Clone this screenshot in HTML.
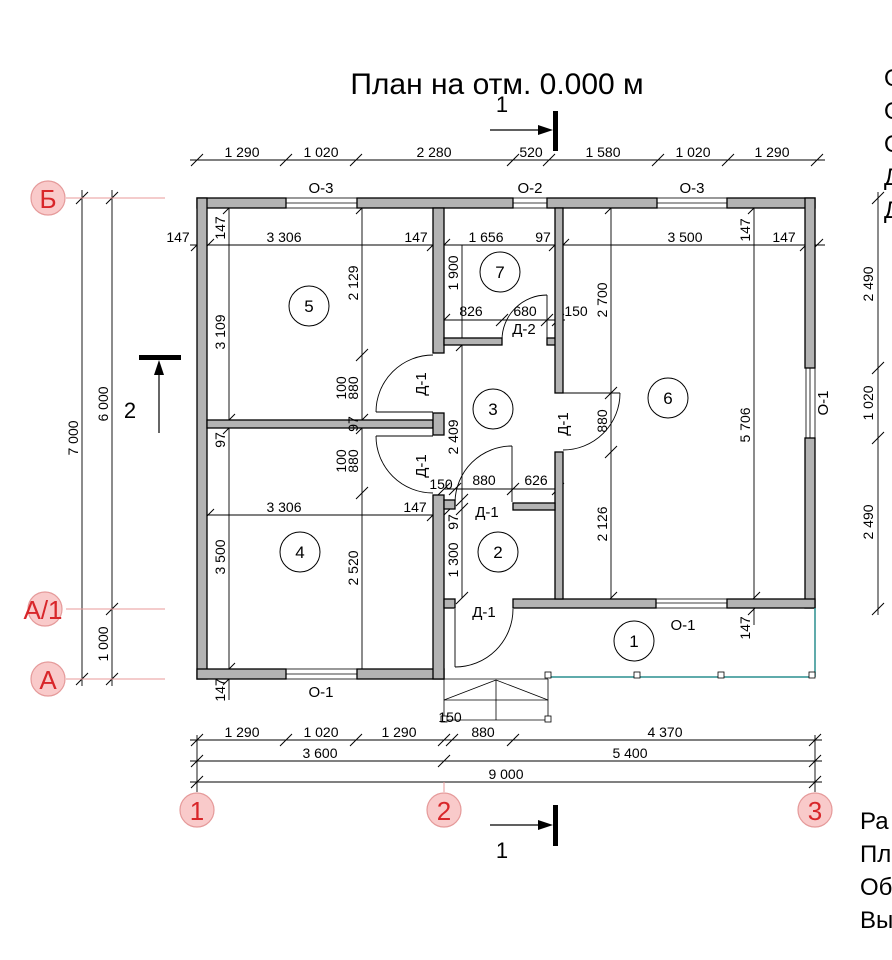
<!DOCTYPE html>
<html><head><meta charset="utf-8"><style>
html,body{margin:0;padding:0;background:#fff;}
svg{display:block;font-family:"Liberation Sans",sans-serif;}
</style></head><body>
<svg width="892" height="960" viewBox="0 0 892 960" xmlns="http://www.w3.org/2000/svg">
<defs>
<g id="tk"><line x1="-6" y1="6" x2="6" y2="-6" stroke="#000" stroke-width="1"/></g>
</defs>
<rect width="892" height="960" fill="#fff"/>
<text x="497" y="94" font-size="30" text-anchor="middle">План на отм. 0.000 м</text>
<!-- section 1 top -->
<text x="502" y="112" font-size="22" text-anchor="middle">1</text>
<line x1="490" y1="130" x2="548" y2="130" stroke="#000" stroke-width="1.2"/>
<polygon points="553,130 538,125 538,135" fill="#000"/>
<rect x="553" y="111" width="5" height="40" fill="#000"/>
<!-- section 1 bottom -->
<line x1="490" y1="825" x2="548" y2="825" stroke="#000" stroke-width="1.2"/>
<polygon points="553,825 538,820 538,830" fill="#000"/>
<rect x="553" y="805" width="5" height="41" fill="#000"/>
<text x="502" y="858" font-size="22" text-anchor="middle">1</text>
<!-- section 2 -->
<rect x="139" y="355" width="42" height="5" fill="#000"/>
<line x1="159" y1="433" x2="159" y2="365" stroke="#000" stroke-width="1.2"/>
<polygon points="159,360 154,375 164,375" fill="#000"/>
<text x="130" y="418" font-size="22" text-anchor="middle">2</text>

<g stroke="#000" stroke-width="0.9" fill="none">
<line x1="190" y1="160" x2="825" y2="160"/>
<line x1="190" y1="245" x2="825" y2="245"/>
<line x1="190" y1="740" x2="822" y2="740"/>
<line x1="190" y1="761" x2="822" y2="761"/>
<line x1="190" y1="782" x2="822" y2="782"/>
<line x1="197" y1="735" x2="197" y2="792"/>
<line x1="815" y1="735" x2="815" y2="792"/>
<line x1="82" y1="190" x2="82" y2="686"/>
<line x1="112" y1="190" x2="112" y2="686"/>
<line x1="878" y1="192" x2="878" y2="615"/>
<line x1="229" y1="208" x2="229" y2="669"/>
<line x1="362" y1="208" x2="362" y2="669"/>
<line x1="462" y1="245" x2="462" y2="598"/>
<line x1="611" y1="208" x2="611" y2="598"/>
<line x1="754" y1="208" x2="754" y2="598"/>
<line x1="197" y1="515" x2="444" y2="515"/>
<line x1="433" y1="320" x2="565" y2="320"/>
<line x1="444" y1="489" x2="563" y2="489"/>
<line x1="754" y1="598" x2="754" y2="625"/>
<line x1="229" y1="669" x2="229" y2="700"/>
</g>
<g>
<use href="#tk" x="197" y="160"/><use href="#tk" x="286" y="160"/><use href="#tk" x="356" y="160"/><use href="#tk" x="513" y="160"/><use href="#tk" x="549" y="160"/><use href="#tk" x="658" y="160"/><use href="#tk" x="728" y="160"/><use href="#tk" x="817" y="160"/>
<use href="#tk" x="197" y="245"/><use href="#tk" x="208" y="245"/><use href="#tk" x="433" y="245"/><use href="#tk" x="444" y="245"/><use href="#tk" x="555" y="245"/><use href="#tk" x="563" y="245"/><use href="#tk" x="806" y="245"/><use href="#tk" x="817" y="245"/>
<use href="#tk" x="229" y="208"/><use href="#tk" x="362" y="208"/><use href="#tk" x="611" y="208"/><use href="#tk" x="754" y="208"/>
<use href="#tk" x="362" y="355"/><use href="#tk" x="362" y="420"/><use href="#tk" x="362" y="428"/><use href="#tk" x="362" y="493"/><use href="#tk" x="229" y="420"/><use href="#tk" x="229" y="428"/>
<use href="#tk" x="462" y="345"/><use href="#tk" x="462" y="500"/><use href="#tk" x="462" y="509"/><use href="#tk" x="462" y="598"/>
<use href="#tk" x="611" y="393"/><use href="#tk" x="611" y="452"/><use href="#tk" x="611" y="598"/><use href="#tk" x="754" y="598"/><use href="#tk" x="754" y="609"/>
<use href="#tk" x="444" y="320"/><use href="#tk" x="502" y="320"/><use href="#tk" x="547" y="320"/><use href="#tk" x="558" y="320"/>
<use href="#tk" x="444" y="489"/><use href="#tk" x="455" y="489"/><use href="#tk" x="513" y="489"/><use href="#tk" x="558" y="489"/>
<use href="#tk" x="208" y="515"/><use href="#tk" x="433" y="515"/><use href="#tk" x="444" y="515"/>
<use href="#tk" x="229" y="669"/><use href="#tk" x="229" y="679"/>
<use href="#tk" x="197" y="740"/><use href="#tk" x="286" y="740"/><use href="#tk" x="356" y="740"/><use href="#tk" x="444" y="740"/><use href="#tk" x="452" y="740"/><use href="#tk" x="513" y="740"/><use href="#tk" x="815" y="740"/>
<use href="#tk" x="197" y="761"/><use href="#tk" x="444" y="761"/><use href="#tk" x="815" y="761"/>
<use href="#tk" x="197" y="782"/><use href="#tk" x="815" y="782"/>
<use href="#tk" x="82" y="198"/><use href="#tk" x="82" y="679"/><use href="#tk" x="112" y="198"/><use href="#tk" x="112" y="609"/><use href="#tk" x="112" y="679"/>
<use href="#tk" x="878" y="198"/><use href="#tk" x="878" y="368"/><use href="#tk" x="878" y="438"/><use href="#tk" x="878" y="609"/>
</g>
<g stroke="#e89a9a" stroke-width="1">
<line x1="66" y1="198" x2="165" y2="198"/>
<line x1="66" y1="609" x2="165" y2="609"/>
<line x1="66" y1="679" x2="165" y2="679"/>
<line x1="444" y1="782" x2="444" y2="792"/>
</g>
<g fill="#f9caca" stroke="#e59a9a" stroke-width="1.2">
<circle cx="48" cy="198" r="17"/><circle cx="45" cy="609" r="17"/><circle cx="48" cy="679" r="17"/>
<circle cx="197" cy="810" r="17"/><circle cx="444" cy="810" r="17"/><circle cx="815" cy="810" r="17"/>
</g>
<g fill="#d8262a" font-size="26" text-anchor="middle">
<text x="48" y="208">Б</text><text x="43" y="619">А/1</text><text x="48" y="689">А</text>
<text x="197" y="820">1</text><text x="444" y="820">2</text><text x="815" y="820">3</text>
</g>

<g stroke="#000" stroke-width="0.8" fill="#fff">
<rect x="286" y="198" width="71" height="10"/><line x1="286" y1="203" x2="357" y2="203"/>
<rect x="513" y="198" width="34" height="10"/><line x1="513" y1="203" x2="547" y2="203"/>
<rect x="657" y="198" width="70" height="10"/><line x1="657" y1="203" x2="727" y2="203"/>
<rect x="806" y="368" width="9" height="70"/><line x1="810" y1="368" x2="810" y2="438"/>
<rect x="656" y="599" width="71" height="9"/><line x1="656" y1="603" x2="727" y2="603"/>
<rect x="286" y="669" width="71" height="10"/><line x1="286" y1="674" x2="357" y2="674"/>
</g>
<g fill="#b3b3b3" stroke="#000" stroke-width="1.3">
<rect x="197" y="198" width="89" height="10"/>
<rect x="357" y="198" width="156" height="10"/>
<rect x="547" y="198" width="110" height="10"/>
<rect x="727" y="198" width="88" height="10"/>
<rect x="197" y="198" width="10" height="481"/>
<rect x="805" y="198" width="10" height="170"/>
<rect x="805" y="438" width="10" height="170"/>
<rect x="513" y="599" width="143" height="9"/>
<rect x="727" y="599" width="88" height="9"/>
<rect x="197" y="669" width="89" height="10"/>
<rect x="357" y="669" width="87" height="10"/>
<rect x="433" y="208" width="11" height="145"/>
<rect x="444" y="338" width="58" height="7"/>
<rect x="547" y="338" width="11" height="7"/>
<rect x="207" y="420" width="226" height="8"/>
<rect x="433" y="413" width="11" height="22"/>
<rect x="433" y="495" width="11" height="184"/>
<rect x="444" y="500" width="11" height="9"/>
<rect x="444" y="599" width="11" height="9"/>
<rect x="555" y="208" width="8" height="185"/>
<rect x="555" y="452" width="8" height="147"/>
<rect x="513" y="503" width="42" height="7"/>
</g>
<g stroke="#000" stroke-width="0.9" fill="none">
<line x1="376" y1="412" x2="433" y2="412"/><path d="M433,355 A57,57 0 0 0 376,412"/>
<line x1="376" y1="436" x2="433" y2="436"/><path d="M376,436 A57,57 0 0 0 433,493"/>
<line x1="512" y1="446" x2="512" y2="502"/><path d="M512,446 A57,57 0 0 0 455,502"/>
<line x1="563" y1="393" x2="620" y2="393"/><path d="M620,393 A57,57 0 0 1 563,450"/>
<line x1="547" y1="295" x2="547" y2="338"/><path d="M547,295 A45,45 0 0 0 502,340"/>
<line x1="455" y1="609" x2="455" y2="667"/><path d="M513,609 A58,58 0 0 1 455,667"/>
</g>
<g stroke="#2a8f8f" stroke-width="1.5" fill="none">
<line x1="551" y1="677" x2="815" y2="677"/>
<line x1="815" y1="608" x2="815" y2="677"/>
</g>
<g stroke="#000" stroke-width="0.8" fill="#fff">
<rect x="545" y="672" width="6" height="6"/><rect x="634" y="672" width="6" height="6"/><rect x="718" y="672" width="6" height="6"/><rect x="809" y="672" width="6" height="6"/>
<line x1="444" y1="679" x2="444" y2="720"/>
<line x1="548" y1="679" x2="548" y2="720"/>
<line x1="444" y1="700" x2="548" y2="700"/>
<line x1="444" y1="700" x2="496" y2="680"/><line x1="496" y1="680" x2="548" y2="700"/>
<line x1="496" y1="680" x2="496" y2="720"/>
<line x1="444" y1="720" x2="548" y2="720"/>
<line x1="444" y1="679" x2="548" y2="679"/>
<rect x="441" y="716" width="6" height="6"/><rect x="545" y="716" width="6" height="6"/>
</g>
<g stroke="#000" stroke-width="1" fill="none">
<circle cx="309" cy="306" r="20"/><circle cx="500" cy="272" r="20"/><circle cx="493" cy="409" r="20"/>
<circle cx="668" cy="398" r="20"/><circle cx="300" cy="552" r="20"/><circle cx="498" cy="552" r="20"/><circle cx="634" cy="641" r="20"/>
</g>
<g font-size="17" text-anchor="middle">
<text x="309" y="312">5</text><text x="500" y="278">7</text><text x="493" y="415">3</text><text x="668" y="404">6</text><text x="300" y="558">4</text><text x="498" y="558">2</text><text x="634" y="647">1</text>
</g>
<g font-size="15" text-anchor="middle">
<text x="321" y="193">О-3</text><text x="530" y="193">О-2</text><text x="692" y="193">О-3</text>
<text x="321" y="697">О-1</text><text x="683" y="630">О-1</text>
<text x="524" y="334">Д-2</text><text x="487" y="517">Д-1</text><text x="484" y="617">Д-1</text>
<text transform="translate(828,403) rotate(-90)">О-1</text>
<text transform="translate(426,384) rotate(-90)">Д-1</text>
<text transform="translate(426,466) rotate(-90)">Д-1</text>
<text transform="translate(568,424) rotate(-90)">Д-1</text>
</g>
<g font-size="14" text-anchor="middle">
<text x="242" y="157">1 290</text><text x="321" y="157">1 020</text><text x="434" y="157">2 280</text><text x="531" y="157">520</text><text x="603" y="157">1 580</text><text x="693" y="157">1 020</text><text x="772" y="157">1 290</text>
<text x="178" y="242">147</text><text x="284" y="242">3 306</text><text x="416" y="242">147</text><text x="486" y="242">1 656</text><text x="543" y="242">97</text><text x="685" y="242">3 500</text><text x="784" y="242">147</text>
<text x="471" y="316">826</text><text x="525" y="316">680</text><text x="576" y="316">150</text>
<text x="441" y="489">150</text><text x="484" y="485">880</text><text x="536" y="485">626</text>
<text x="284" y="512">3 306</text><text x="415" y="512">147</text>
<text x="242" y="737">1 290</text><text x="321" y="737">1 020</text><text x="399" y="737">1 290</text><text x="483" y="737">880</text><text x="665" y="737">4 370</text>
<text x="450" y="722">150</text>
<text x="320" y="758">3 600</text><text x="630" y="758">5 400</text><text x="506" y="779">9 000</text>
<text transform="translate(78,438) rotate(-90)">7 000</text>
<text transform="translate(108,404) rotate(-90)">6 000</text>
<text transform="translate(108,644) rotate(-90)">1 000</text>
<text transform="translate(873,284) rotate(-90)">2 490</text>
<text transform="translate(873,403) rotate(-90)">1 020</text>
<text transform="translate(873,522) rotate(-90)">2 490</text>
<text transform="translate(225,228) rotate(-90)">147</text>
<text transform="translate(225,332) rotate(-90)">3 109</text>
<text transform="translate(225,440) rotate(-90)">97</text>
<text transform="translate(225,557) rotate(-90)">3 500</text>
<text transform="translate(225,690) rotate(-90)">147</text>
<text transform="translate(358,283) rotate(-90)">2 129</text>
<text transform="translate(346,388) rotate(-90)">100</text>
<text transform="translate(358,388) rotate(-90)">880</text>
<text transform="translate(358,424) rotate(-90)">97</text>
<text transform="translate(346,461) rotate(-90)">100</text>
<text transform="translate(358,461) rotate(-90)">880</text>
<text transform="translate(358,568) rotate(-90)">2 520</text>
<text transform="translate(458,273) rotate(-90)">1 900</text>
<text transform="translate(458,437) rotate(-90)">2 409</text>
<text transform="translate(458,522) rotate(-90)">97</text>
<text transform="translate(458,560) rotate(-90)">1 300</text>
<text transform="translate(607,300) rotate(-90)">2 700</text>
<text transform="translate(607,421) rotate(-90)">880</text>
<text transform="translate(607,524) rotate(-90)">2 126</text>
<text transform="translate(750,425) rotate(-90)">5 706</text>
<text transform="translate(750,230) rotate(-90)">147</text>
<text transform="translate(750,628) rotate(-90)">147</text>
</g>
<g font-size="24">
<text x="884" y="86">О</text><text x="884" y="119">О</text><text x="884" y="152">О</text><text x="884" y="185">Д</text><text x="884" y="218">Д</text>
<text x="860" y="829">Ра</text><text x="860" y="862">Пл</text><text x="860" y="895">Об</text><text x="860" y="928">Вы</text>
</g>
</svg>
</body></html>
